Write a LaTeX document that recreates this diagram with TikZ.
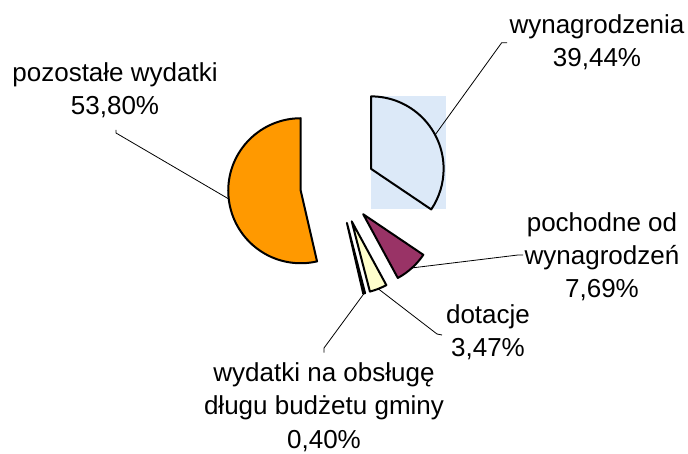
\documentclass[tikz,border=0pt]{standalone}
\usepackage{fontspec}
\setmainfont{Liberation Sans}
\usetikzlibrary{calc}

\definecolor{tlo}{HTML}{DCE9F8}
\definecolor{pomar}{HTML}{FF9900}
\definecolor{sliwka}{HTML}{993366}
\definecolor{krem}{HTML}{FFFFCC}
\definecolor{blekit}{HTML}{CCFFFF}

\tikzset{
	wycinek/.style={draw=black, line width=1.5pt, line join=round},
	odnosnik/.style={draw=black, line width=0.6pt},
	etykieta/.style={align=center, inner sep=0pt, font=\fontsize{19.5}{25}\selectfont}
}

\begin{document}
\begin{tikzpicture}[x=0.75pt,y=0.75pt]
	\useasboundingbox (0,0) rectangle (688,453);
	
	\def\R{72.5}
	\def\d{37.5}
	\coordinate (o) at (338,266.5);
	\coordinate (a) at ($(o)+(28:\d)$);
	\coordinate (b) at ($(o)+(-47.75:\d)$);
	\coordinate (c) at ($(o)+(-68.5:\d)$);
	\coordinate (s) at ($(o)+(-76.25:\d)$);
	\coordinate (e) at ($(o)+(186.5:\d)$);
	
	\fill[tlo] ($(a)+(0,{-\R*sin(34)})$) rectangle ($(a)+(\R+2,\R)$);
	\filldraw[wycinek, fill=tlo] (a) -- ++(90:\R) arc[start angle=90, end angle=-34, radius=\R] -- cycle;
	\filldraw[wycinek, fill=sliwka] (b) -- ++(-34:\R) arc[start angle=-34, end angle=-61.5, radius=\R] -- cycle;
	\filldraw[wycinek, fill=krem] (c) -- ++(-61.5:\R) arc[start angle=-61.5, end angle=-75.5, radius=\R] -- cycle;
	\filldraw[wycinek, fill=blekit] (s) -- ++(-75.5:\R) arc[start angle=-75.5, end angle=-77, radius=\R] -- cycle;
	\filldraw[wycinek, fill=pomar] (e) -- ++(90:\R) arc[start angle=90, end angle=283, radius=\R] -- cycle;
	
	\coordinate (am) at ($(a)+(28:\R)$);
	\coordinate (bm) at ($(b)+(-47.75:\R)$);
	\coordinate (cm) at ($(c)+(-68.5:\R)$);
	\coordinate (sm) at ($(s)+(-76.25:\R)$);
	\coordinate (em) at ($(e)+(186.5:\R)$);
	
	\node[etykieta, anchor=base] (wyn) at (597,386.3) {wynagrodzenia\\39,44\%};
	\node[etykieta, anchor=base] (poch) at (602,155) {pochodne od\\wynagrodzeń\\7,69\%};
	\node[etykieta, anchor=base] (dot) at (488,96.3) {dotacje\\3,47\%};
	\node[etykieta, anchor=base] (dlug) at (324,4.7) {wydatki na obsługę\\długu budżetu gminy\\0,40\%};
	\node[etykieta, anchor=base] (poz) at (115,338) {pozostałe wydatki\\53,80\%};
	
	\coordinate (wyn1) at (507,410.3);
	\coordinate (wyn2) at (501.7,410.3);
	\coordinate (poch1) at (523,198);
	\coordinate (poch2) at (518,198);
	\coordinate (dot1) at (442,118);
	\coordinate (dot2) at (437,119);
	\coordinate (dlug1) at (324,100.3);
	\coordinate (dlug2) at (324,105);
	\coordinate (poz1) at (116,323);
	\coordinate (poz2) at (116,320);
	
	\draw[odnosnik] (wyn1) -- (wyn2) -- (am);
	\draw[odnosnik] (poch1) -- (poch2) -- (bm);
	\draw[odnosnik] (dot1) -- (dot2) -- (cm);
	\draw[odnosnik] (dlug1) -- (dlug2) -- (sm);
	\draw[odnosnik] (poz1) -- (poz2) -- (em);
	
\end{tikzpicture}
\end{document}
